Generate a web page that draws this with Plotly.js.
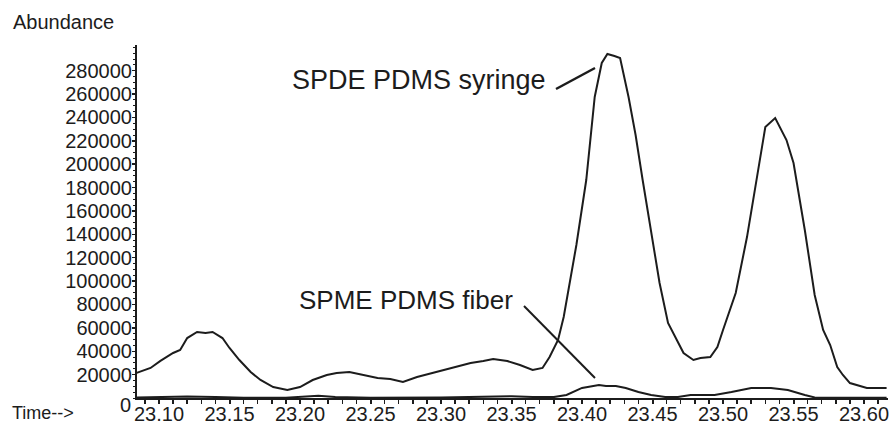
<!DOCTYPE html>
<html><head><meta charset="utf-8">
<script src="https://cdn.plot.ly/plotly-3.0.1.min.js"></script>
<style>html,body{margin:0;padding:0;background:#fff}#chart{width:890px;height:427px}</style>
</head><body><div id="chart"></div>
<script>
const spdeTime = [23.084,23.094,23.101,23.110,23.115,23.120,23.127,23.133,23.138,23.145,23.150,23.157,23.165,23.172,23.181,23.191,23.200,23.209,23.219,23.226,23.235,23.245,23.255,23.264,23.273,23.283,23.294,23.306,23.321,23.330,23.337,23.347,23.356,23.365,23.372,23.377,23.383,23.387,23.389,23.396,23.403,23.409,23.414,23.418,23.423,23.427,23.433,23.438,23.443,23.448,23.455,23.461,23.472,23.479,23.484,23.491,23.496,23.500,23.509,23.517,23.523,23.530,23.537,23.545,23.550,23.558,23.565,23.571,23.576,23.581,23.585,23.590,23.602,23.616];
const spdeAbundance = [21400,25700,31700,38500,41100,51300,56500,55600,56500,51300,42800,32500,22200,15400,9400,6800,9400,15400,19700,21400,22200,19700,17100,16300,13700,18000,21400,25700,29900,31700,33400,31700,28200,24000,25700,35100,49600,69300,83800,130900,186500,257500,286600,294300,292600,290900,257500,225000,186500,149700,98400,64200,38500,32500,34200,35100,43600,58200,89800,137700,180500,231800,239500,220700,201000,143700,88100,58200,45300,26500,19700,12800,8600,8600];
const spmeTime = [23.084,23.100,23.120,23.140,23.160,23.190,23.205,23.213,23.225,23.250,23.300,23.330,23.350,23.365,23.380,23.389,23.400,23.412,23.417,23.424,23.431,23.440,23.449,23.459,23.468,23.477,23.494,23.506,23.520,23.534,23.546,23.558,23.565,23.580,23.616];
const spmeAbundance = [500,800,1200,900,300,200,1200,2000,900,300,400,1200,1500,900,800,2600,8600,11100,10300,10300,8600,5100,2600,900,900,2600,2600,5100,8600,8600,6800,2600,500,300,300];
const yTickValues = [20000,40000,60000,80000,100000,120000,140000,160000,180000,200000,220000,240000,260000,280000];
const yTickLabels = ["20000","40000","60000","80000","100000","120000","140000","160000","180000","200000","220000","240000","260000","280000"];
const seriesNames = ["SPDE PDMS syringe","SPME PDMS fiber"];

const W = 890, H = 427, ML = 137, MR = 2, MT = 45, MB = 29;
const PW = W - ML - MR, PH = H - MT - MB;
const px = v => (v - ML) / PW;
const py = v => (H - MB - v) / PH;
const FONT = '"Liberation Sans", Arial, sans-serif';
const INK = '#1c1c1c';

const traces = [
  {x: spdeTime, y: spdeAbundance, name: seriesNames[0], type: 'scatter', mode: 'lines',
   line: {color: INK, width: 2}},
  {x: spmeTime, y: spmeAbundance, name: seriesNames[1], type: 'scatter', mode: 'lines',
   line: {color: INK, width: 2}}
];

const layout = {
  width: W, height: H,
  margin: {l: ML, r: MR, t: MT, b: MB, pad: 0},
  paper_bgcolor: '#fff', plot_bgcolor: '#fff',
  showlegend: false,
  font: {family: FONT, size: 20, color: INK},
  xaxis: {
    range: [23.0844, 23.617], showgrid: false, zeroline: false,
    showline: true, linecolor: INK, linewidth: 2,
    tickmode: 'linear', tick0: 23.10, dtick: 0.05, tickformat: '.2f',
    ticks: 'outside', ticklen: 4, tickwidth: 2, tickcolor: INK,
    ticklabelstandoff: -7,
    minor: {dtick: 0.01, ticks: 'outside', ticklen: 4, tickwidth: 1.5, tickcolor: INK, showgrid: false},
    tickfont: {family: FONT, size: 20, color: INK}
  },
  yaxis: {
    range: [0, 302000], showgrid: false, zeroline: false,
    showline: true, linecolor: INK, linewidth: 2,
    tickmode: 'array', tickvals: yTickValues, ticktext: yTickLabels,
    ticks: 'outside', ticklen: 3, tickwidth: 1.5, tickcolor: INK,
    ticklabelstandoff: -4,
    minor: {dtick: 5000, ticks: 'outside', ticklen: 2, tickwidth: 1, tickcolor: INK, showgrid: false},
    tickfont: {family: FONT, size: 20, color: INK}
  },
  annotations: [
    {text: 'Abundance', xref: 'paper', yref: 'paper', x: px(11), y: py(22), xanchor: 'left', yanchor: 'middle', showarrow: false, font: {size: 20}},
    {text: 'Time-->', xref: 'paper', yref: 'paper', x: px(10), y: py(413), xanchor: 'left', yanchor: 'middle', showarrow: false, font: {size: 18}},
    {text: '0', xref: 'paper', yref: 'paper', x: px(133), y: py(405), xanchor: 'right', yanchor: 'middle', showarrow: false, font: {size: 20}},
    {text: seriesNames[0], xref: 'paper', yref: 'paper', x: px(290), y: py(80), xanchor: 'left', yanchor: 'middle', showarrow: false, font: {size: 27}},
    {text: seriesNames[1], xref: 'paper', yref: 'paper', x: px(297), y: py(300), xanchor: 'left', yanchor: 'middle', showarrow: false, font: {size: 26}}
  ],
  shapes: [
    {type: 'line', xref: 'paper', yref: 'paper', x0: px(556), y0: py(89), x1: px(595), y1: py(68), line: {color: INK, width: 2.5}},
    {type: 'line', xref: 'paper', yref: 'paper', x0: px(524), y0: py(306), x1: px(595), y1: py(378), line: {color: INK, width: 2}}
  ]
};

Plotly.newPlot('chart', traces, layout, {displayModeBar: false, staticPlot: true});
</script>
</body></html>
